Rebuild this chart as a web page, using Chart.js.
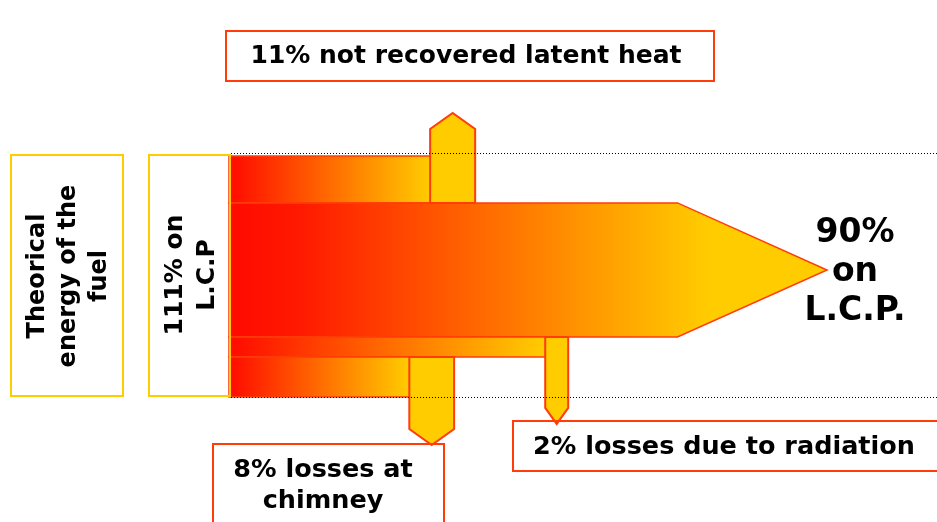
<!DOCTYPE html>
<html>
<head>
<meta charset="utf-8">
<script src="https://cdn.jsdelivr.net/npm/chart.js@4.4.1/dist/chart.umd.min.js"></script>
<style>
html,body{margin:0;padding:0;background:#fff;}
canvas{display:block;}
</style>
</head>
<body>
<canvas id="c" width="937" height="522"></canvas>
<script>
// ---- data ----
const inputValue = 111;
const inputLabel = ['111% on', 'L.C.P'];
const sourceLabel = ['Theorical', 'energy of the', 'fuel'];
const outputValue = 90;
const outputLabel = ['90%', 'on', 'L.C.P.'];
const lossValues = [11, 2, 8];
const lossNames = ['not recovered latent heat', 'losses due to radiation', 'losses at chimney'];

// ---- layout (flow units along x, sqrt-of-percent units across y) ----
const bandOrder = ['loss0', 'out', 'loss1', 'loss2'];   // top to bottom
const lossExitCenter = [37.4, 54.8, 33.9];
const lossArrowDir = ['up', 'down', 'down'];
const lossArrowShoulder = [-1.91, 17.82, 19.31];
const lossArrowScale = [0.96, 1.15, 1.12];
const outShoulder = 75, outTip = 100;

const RED = '#ff0a00', GOLD = '#ffcc00', EDGE = '#ff3c0a';

const flowPlugin = {
  id: 'flow',
  beforeDraw(chart) {
    const c = chart.ctx;
    c.save(); c.fillStyle = '#fff'; c.fillRect(0, 0, chart.width, chart.height); c.restore();
  },
  afterDraw(chart) {
    const ctx = chart.ctx;
    const xs = chart.scales.x, ys = chart.scales.y;
    const X = v => xs.getPixelForValue(v), Y = v => ys.getPixelForValue(v);
    const x0 = X(0);
    const head = 16;
    let acc = 0;
    const arrows = [];
    ctx.save();
    ctx.lineJoin = 'miter';
    bandOrder.forEach(key => {
      const v = key === 'out' ? outputValue : lossValues[+key.slice(4)];
      const y0 = Y(acc), y1 = Y(acc + Math.sqrt(v));
      acc += Math.sqrt(v);
      if (key === 'out') {
        const xs1 = X(outShoulder), xt = X(outTip);
        const g = ctx.createLinearGradient(x0, 0, X(80), 0);
        g.addColorStop(0, RED); g.addColorStop(0.15, '#ff1a00'); g.addColorStop(1, GOLD);
        ctx.beginPath();
        ctx.moveTo(x0, y0); ctx.lineTo(xs1, y0); ctx.lineTo(xt, (y0 + y1) / 2);
        ctx.lineTo(xs1, y1); ctx.lineTo(x0, y1); ctx.closePath();
        ctx.fillStyle = g; ctx.fill();
        ctx.strokeStyle = EDGE; ctx.lineWidth = 1.5; ctx.stroke();
      } else {
        const i = +key.slice(4);
        const t = y1 - y0;
        const w = t * lossArrowScale[i];
        const cx = X(lossExitCenter[i]);
        const al = cx - w / 2, ar = cx + w / 2;
        const g = ctx.createLinearGradient(x0, 0, al, 0);
        g.addColorStop(0, RED); g.addColorStop(1, GOLD);
        ctx.beginPath();
        ctx.rect(x0, y0, ar - x0, t);
        ctx.fillStyle = g; ctx.fill();
        ctx.strokeStyle = EDGE; ctx.lineWidth = 1.5; ctx.stroke();
        arrows.push({ al, ar, cx, y0, y1, dir: lossArrowDir[i], sh: Y(lossArrowShoulder[i]) });
      }
    });
    arrows.forEach(a => {
      ctx.beginPath();
      if (a.dir === 'up') {
        ctx.moveTo(a.al, a.y1); ctx.lineTo(a.al, a.sh); ctx.lineTo(a.cx, a.sh - head);
        ctx.lineTo(a.ar, a.sh); ctx.lineTo(a.ar, a.y1);
      } else {
        ctx.moveTo(a.al, a.y0); ctx.lineTo(a.al, a.sh); ctx.lineTo(a.cx, a.sh + head);
        ctx.lineTo(a.ar, a.sh); ctx.lineTo(a.ar, a.y0);
      }
      ctx.closePath();
      ctx.fillStyle = GOLD; ctx.fill();
      ctx.strokeStyle = EDGE; ctx.lineWidth = 2; ctx.stroke();
    });

    // dotted reference lines at the edges of the input
    const yTop = Y(0), yBot = Y(acc);
    ctx.beginPath();
    ctx.setLineDash([1, 2]);
    ctx.strokeStyle = '#000'; ctx.lineWidth = 1;
    ctx.moveTo(x0 + 2, Math.round(yTop) - 2.5); ctx.lineTo(937, Math.round(yTop) - 2.5);
    ctx.moveTo(x0 + 2, Math.round(yBot) + 0.5); ctx.lineTo(937, Math.round(yBot) + 0.5);
    ctx.stroke();
    ctx.setLineDash([]);

    // left boxes
    ctx.strokeStyle = GOLD; ctx.lineWidth = 2;
    ctx.strokeRect(11, 155, 112, 241);
    ctx.strokeRect(149, 155, 81, 241);

    ctx.fillStyle = '#000';
    ctx.textAlign = 'center'; ctx.textBaseline = 'middle';
    const rot = (lines, cx, cy, gap, font) => {
      ctx.save(); ctx.translate(cx, cy); ctx.rotate(-Math.PI / 2);
      ctx.font = font;
      lines.forEach((l, k) => ctx.fillText(l, 0, (k - (lines.length - 1) / 2) * gap));
      ctx.restore();
    };
    rot(sourceLabel, 69, 276, 31, 'bold 24px "DejaVu Sans"');
    rot(inputLabel, 191, 275, 32, 'bold 25px "DejaVu Sans"');

    // loss text boxes
    ctx.strokeStyle = EDGE; ctx.lineWidth = 2;
    ctx.strokeRect(226, 31, 488, 50);
    ctx.strokeRect(513, 421, 430, 50);
    ctx.strokeRect(213, 444, 231, 90);
    ctx.font = 'bold 25px "DejaVu Sans"';
    ctx.fillText(lossValues[0] + '% ' + lossNames[0], 466, 56);
    ctx.font = 'bold 25.5px "DejaVu Sans"';
    ctx.fillText(lossValues[1] + '% ' + lossNames[1], 724, 447);
    const ch = (lossValues[2] + '% ' + lossNames[2]).split(' ');
    ctx.fillText(ch.slice(0, 3).join(' '), 323, 470);
    ctx.fillText(ch.slice(3).join(' '), 323, 501);

    // output label
    ctx.font = 'bold 33px "DejaVu Sans"';
    outputLabel.forEach((l, k) => ctx.fillText(l, 855, 233 + k * 39));
    ctx.restore();
  }
};

new Chart(document.getElementById('c'), {
  type: 'scatter',
  data: { datasets: [] },
  options: {
    responsive: false,
    animation: false,
    events: [],
    layout: { padding: 0 },
    plugins: { legend: { display: false }, tooltip: { enabled: false } },
    scales: {
      x: { type: 'linear', display: false, min: -38.29, max: 118.39 },
      y: { type: 'linear', display: false, reverse: true, min: -11.034, max: 25.888 }
    }
  },
  plugins: [flowPlugin]
});
</script>
</body>
</html>
